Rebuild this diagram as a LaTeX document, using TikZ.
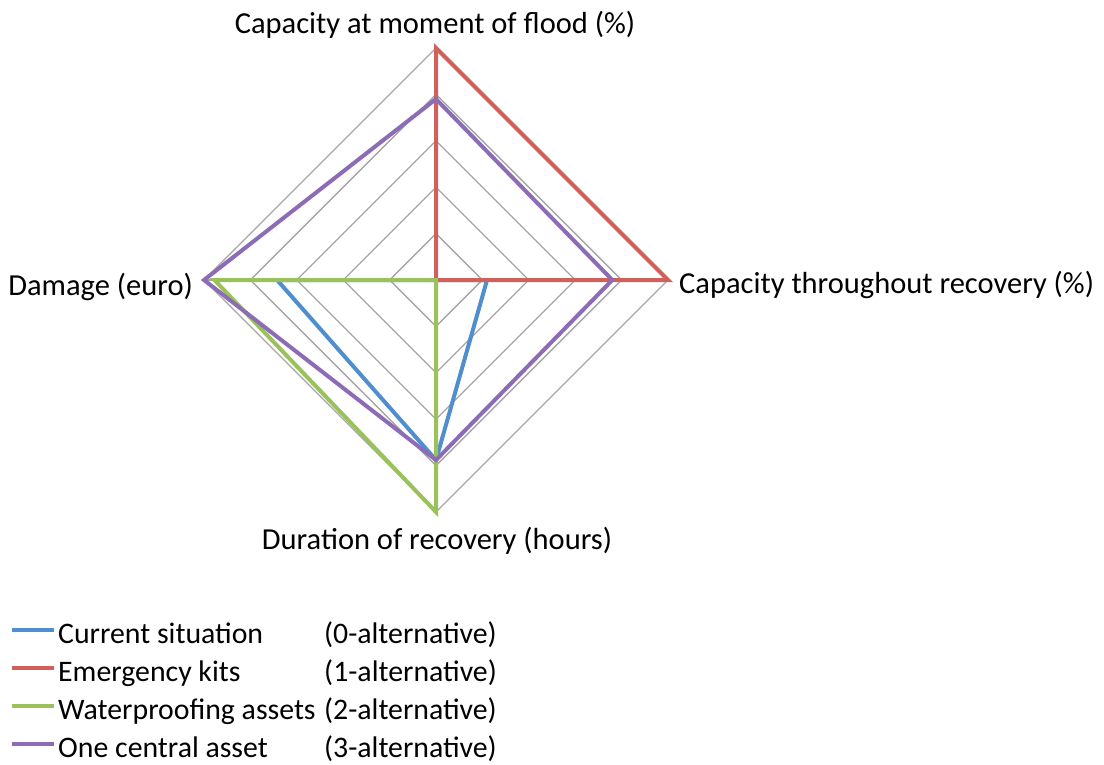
\documentclass[tikz,border=0pt]{standalone}
\usepackage{fontspec}
\setmainfont{Carlito}
\usetikzlibrary{calc}
\definecolor{sblue}{HTML}{4F8FCF}
\definecolor{sred}{HTML}{D0605A}
\definecolor{sgreen}{HTML}{9BC15A}
\definecolor{spurple}{HTML}{8B6CB5}
\definecolor{gridgray}{HTML}{A6A6A6}
\begin{document}
\begin{tikzpicture}[x=1pt,y=-1pt,
  grid/.style={draw=gridgray,line width=1.3pt},
  series/.style={line width=4pt,line join=miter},
  lbl/.style={inner sep=0pt,font=\fontsize{30.5}{36}\selectfont},
  leglbl/.style={inner sep=0pt,font=\fontsize{29.8}{36}\selectfont},
  legline/.style={line width=4pt}]
\useasboundingbox (0,0) rectangle (1104,764);
\def\R{232}
\coordinate (C) at (436,280);
% grid diamonds
\foreach \k in {1,...,5}{
  \draw[grid] ($(C)+(0,-\k*\R/5)$) -- ($(C)+(\k*\R/5,0)$) -- ($(C)+(0,\k*\R/5)$) -- ($(C)+(-\k*\R/5,0)$) -- cycle;
}
\draw[grid] ($(C)+(0,-\R)$) -- ($(C)+(0,\R)$);
\draw[grid] ($(C)+(-\R,0)$) -- ($(C)+(\R,0)$);
% series: values top, right, bottom, left
\foreach \col/\t/\r/\b/\l in {sblue/0/0.22/0.776/0.685, sred/1/1/0/0, sgreen/0/0/1/0.955, spurple/0.78/0.76/0.776/1}{
  \draw[series,draw=\col] ($(C)+(0,-\t*\R)$) -- ($(C)+(\r*\R,0)$) -- ($(C)+(0,\b*\R)$) -- ($(C)+(-\l*\R,0)$) -- cycle;
}
% axis labels
\node[lbl,anchor=base] (top) at (435,33) {Capacity at moment of flood (\%)};
\node[lbl,anchor=base west] (right) at (679,293) {Capacity throughout recovery (\%)};
\node[lbl,anchor=base east] (left) at (193,295) {Damage (euro)};
\node[lbl,anchor=base] (bottom) at (437,549) {Duration of recovery (hours)};
% legend
\foreach \col/\y/\a/\b [count=\i] in {sblue/630/Current situation/(0-alternative), sred/668/Emergency kits/(1-alternative), sgreen/706/Waterproofing assets/(2-alternative), spurple/744/One central asset/(3-alternative)}{
  \coordinate (la\i) at (12,\y);
  \coordinate (lb\i) at (54,\y);
  \draw[legline,draw=\col] (la\i) -- (lb\i);
  \node[leglbl,anchor=base west] (lt\i) at (58,\y+13) {\makebox[266pt][l]{\a}\b};
}
\end{tikzpicture}
\end{document}
